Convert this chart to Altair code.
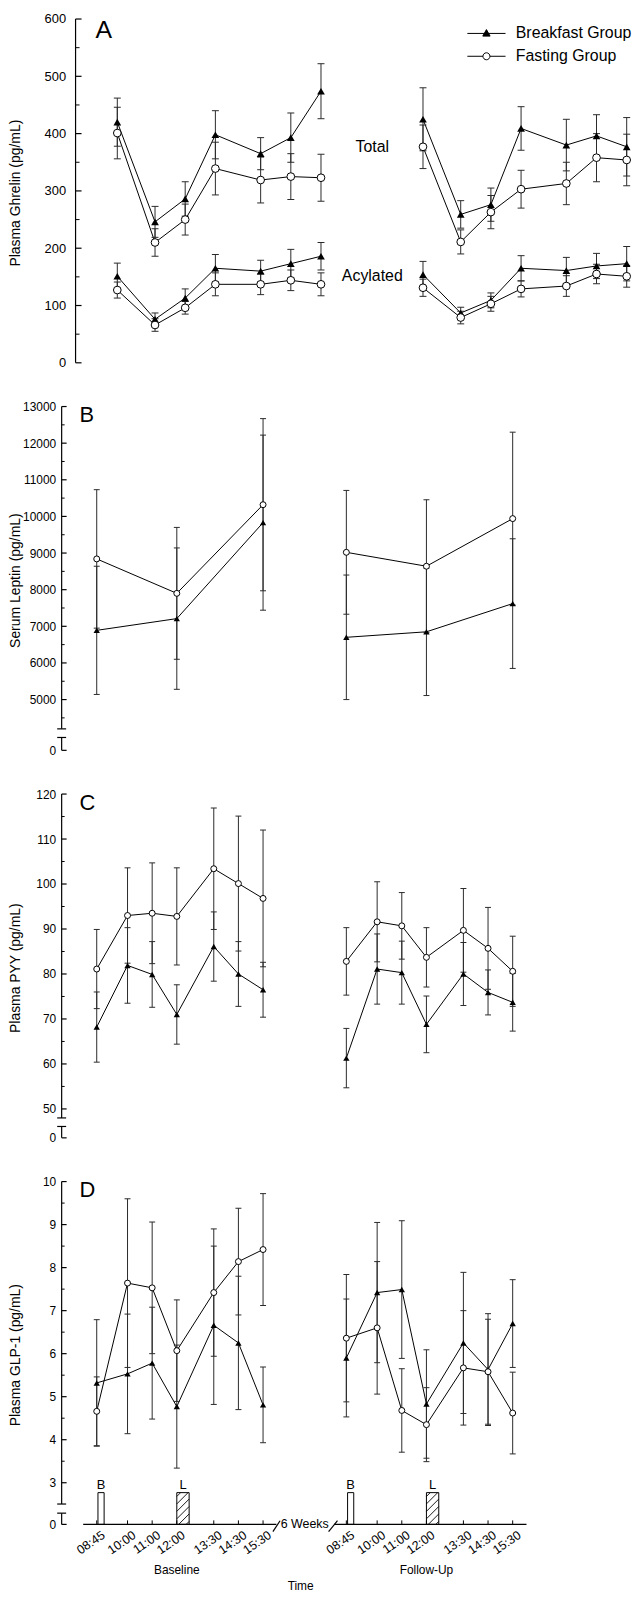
import altair as alt
import pandas as pd

FONT = "Liberation Sans"
INK = "black"
BAR_INK = "#2a2a2a"

# ---------------- time axis ----------------
TIMES = ["08:45", "10:00", "11:00", "12:00", "13:30", "14:30", "15:30"]
HOURS = [8.75, 10.0, 11.0, 12.0, 13.5, 14.5, 15.5]
SESSIONS = ["Baseline", "Follow-Up"]
SESSION_SHIFT = [0.0, 10.13]          # follow-up placed after the "6 Weeks" break
GROUPS = ["Breakfast Group", "Fasting Group"]
LEPTIN_IDX = [0, 3, 6]                 # leptin sampled at 08:45, 12:00, 15:30

# ---------------- Panel A: plasma ghrelin (pg/mL) ----------------
A_TOT_BRK_BL = [420, 246, 286, 398, 365, 393, 474]
A_TOT_BRK_BL_SD = [42, 27, 30, 42, 28, 43, 48]
A_TOT_FST_BL = [401, 210, 250, 339, 319, 325, 323]
A_TOT_FST_BL_SD = [45, 24, 27, 46, 40, 40, 41]
A_ACY_BRK_BL = [151, 76, 113, 165, 160, 173, 186]
A_ACY_BRK_BL_SD = [23, 11, 16, 24, 19, 25, 24]
A_ACY_FST_BL = [127, 66, 96, 137, 137, 144, 137]
A_ACY_FST_BL_SD = [14, 11, 11, 20, 18, 18, 20]
A_TOT_BRK_FU = [425, 259, 276, 409, 380, 396, 377]
A_TOT_BRK_FU_SD = [55, 24, 29, 38, 45, 37, 51]
A_TOT_FST_FU = [377, 211, 263, 303, 313, 358, 354]
A_TOT_FST_FU_SD = [38, 21, 29, 33, 37, 42, 45]
A_ACY_BRK_FU = [154, 87, 109, 165, 161, 169, 173]
A_ACY_BRK_FU_SD = [23, 10, 13, 22, 23, 22, 30]
A_ACY_FST_FU = [131, 79, 103, 129, 134, 155, 151]
A_ACY_FST_FU_SD = [15, 11, 13, 14, 18, 17, 19]
A_SERIES_LABELS = ["Total", "Acylated"]
A_SERIES_LABEL_X = [17.2, 17.2]
A_SERIES_LABEL_Y = [377, 151]

# ---------------- Panel B: serum leptin (pg/mL) ----------------
B_BRK_BL = [6890, 7210, 9830]
B_BRK_BL_SD = [1750, 1930, 2390]
B_FST_BL = [8840, 7900, 10320]
B_FST_BL_SD = [1890, 1800, 2350]
B_BRK_FU = [6700, 6850, 7620]
B_BRK_FU_SD = [1700, 1740, 1770]
B_FST_FU = [9020, 8640, 9940]
B_FST_FU_SD = [1690, 1815, 2360]

# ---------------- Panel C: plasma PYY (pg/mL) ----------------
C_BRK_BL = [68.2, 81.9, 79.9, 71.0, 86.1, 80.0, 76.5]
C_BRK_BL_SD = [7.8, 8.4, 7.3, 6.6, 7.7, 7.2, 6.1]
C_FST_BL = [81.1, 93.0, 93.5, 92.8, 103.4, 100.1, 96.8]
C_FST_BL_SD = [8.8, 10.6, 11.2, 10.8, 13.5, 15.0, 15.2]
C_BRK_FU = [61.3, 81.1, 80.3, 68.8, 80.0, 75.9, 73.7]
C_BRK_FU_SD = [6.6, 7.8, 7.0, 6.3, 7.0, 5.0, 6.4]
C_FST_FU = [82.8, 91.6, 90.7, 83.7, 89.7, 85.7, 80.6]
C_FST_FU_SD = [7.5, 8.9, 7.4, 6.6, 9.3, 9.1, 7.8]

# ---------------- Panel D: plasma GLP-1 (pg/mL) ----------------
D_BRK_BL = [5.32, 5.53, 5.78, 4.77, 6.66, 6.25, 4.81]
D_BRK_BL_SD = [1.47, 1.39, 1.30, 1.43, 1.84, 1.55, 0.88]
D_FST_BL = [4.66, 7.64, 7.53, 6.07, 7.42, 8.14, 8.42]
D_FST_BL_SD = [0.80, 1.96, 1.53, 1.18, 1.48, 1.24, 1.30]
D_BRK_FU = [5.90, 7.42, 7.49, 4.83, 6.25, 5.63, 6.70]
D_BRK_FU_SD = [1.37, 1.63, 1.60, 1.26, 1.64, 1.30, 1.02]
D_FST_FU = [6.36, 6.60, 4.68, 4.35, 5.67, 5.58, 4.62]
D_FST_FU_SD = [1.48, 1.54, 0.97, 0.86, 1.33, 1.22, 0.95]

# meals (B = breakfast, L = lunch), start/end in clock hours
MEAL_LABELS = ["B", "L"]
MEAL_START = [8.8, 12.0]
MEAL_END = [9.05, 12.5]
MEAL_HATCHED = [False, True]

SERIES = [
    ("A", "Total", 0, 0, A_TOT_BRK_BL, A_TOT_BRK_BL_SD, None),
    ("A", "Total", 1, 0, A_TOT_FST_BL, A_TOT_FST_BL_SD, None),
    ("A", "Acylated", 0, 0, A_ACY_BRK_BL, A_ACY_BRK_BL_SD, None),
    ("A", "Acylated", 1, 0, A_ACY_FST_BL, A_ACY_FST_BL_SD, None),
    ("A", "Total", 0, 1, A_TOT_BRK_FU, A_TOT_BRK_FU_SD, None),
    ("A", "Total", 1, 1, A_TOT_FST_FU, A_TOT_FST_FU_SD, None),
    ("A", "Acylated", 0, 1, A_ACY_BRK_FU, A_ACY_BRK_FU_SD, None),
    ("A", "Acylated", 1, 1, A_ACY_FST_FU, A_ACY_FST_FU_SD, None),
    ("B", "Leptin", 0, 0, B_BRK_BL, B_BRK_BL_SD, LEPTIN_IDX),
    ("B", "Leptin", 1, 0, B_FST_BL, B_FST_BL_SD, LEPTIN_IDX),
    ("B", "Leptin", 0, 1, B_BRK_FU, B_BRK_FU_SD, LEPTIN_IDX),
    ("B", "Leptin", 1, 1, B_FST_FU, B_FST_FU_SD, LEPTIN_IDX),
    ("C", "PYY", 0, 0, C_BRK_BL, C_BRK_BL_SD, None),
    ("C", "PYY", 1, 0, C_FST_BL, C_FST_BL_SD, None),
    ("C", "PYY", 0, 1, C_BRK_FU, C_BRK_FU_SD, None),
    ("C", "PYY", 1, 1, C_FST_FU, C_FST_FU_SD, None),
    ("D", "GLP1", 0, 0, D_BRK_BL, D_BRK_BL_SD, None),
    ("D", "GLP1", 1, 0, D_FST_BL, D_FST_BL_SD, None),
    ("D", "GLP1", 0, 1, D_BRK_FU, D_BRK_FU_SD, None),
    ("D", "GLP1", 1, 1, D_FST_FU, D_FST_FU_SD, None),
]

rows = []
for panel, kind, g, s, means, sds, idx in SERIES:
    idx = idx if idx is not None else list(range(len(HOURS)))
    for i, m, e in zip(idx, means, sds):
        rows.append(dict(panel=panel, kind=kind, group=GROUPS[g], session=SESSIONS[s],
                         x=HOURS[i] + SESSION_SHIFT[s], v=m, lo=m - e, hi=m + e,
                         sid=f"{kind}|{g}|{s}"))
DF = pd.DataFrame(rows)

# ---------------- geometry ----------------
W_A = 570
XDOM_A = [6.906, 6.906 + 570 / 30.37]
W = 468
XDOM = [7.327, 26.198]
ALL_X = [h + sh for sh in SESSION_SHIFT for h in HOURS]

PANELS = {
    "A": dict(h=346, ydom=[0.0, 600.0], major=[float(v) for v in range(0, 601, 100)],
              minor=[float(v) for v in range(50, 600, 100)],
              segs=[(0, 600)], caps=[], zero=-1, title="Plasma Ghrelin (pg/mL)", lsize=13, lpad=10,
              ax=14, mlen=6, nlen=4, tri=60, circ=60, letter_dx=34, lsz=25),
    "B": dict(h=346, ydom=[3614.0, 13000.0], major=[3614.0] + [float(v) for v in range(5000, 13001, 1000)],
              minor=[float(v) for v in range(4500, 13000, 1000)], segs=[(4200, 13000), (3614, 3965)],
              caps=[4200, 3965], zero=4000, title="Serum Leptin (pg/mL)", lsize=12, lpad=6,
              ax=0, mlen=5, nlen=3, tri=40, circ=36, letter_dx=18, lsz=22),
    "C": dict(h=346, ydom=[43.57, 120.0], major=[43.57] + [float(v) for v in range(50, 121, 10)],
              minor=[float(v) for v in range(55, 120, 10)], segs=[(48.0, 120), (43.57, 46.1)],
              caps=[48.0, 46.1], zero=45, title="Plasma PYY (pg/mL)", lsize=12, lpad=6,
              ax=0, mlen=5, nlen=3, tri=40, circ=36, letter_dx=18, lsz=22),
    "D": dict(h=345, ydom=[2.032, 10.0], major=[2.032] + [float(v) for v in range(3, 11)],
              minor=[3.5, 4.5, 5.5, 6.5, 7.5, 8.5, 9.5], segs=[(2.505, 10), (2.032, 2.293)],
              caps=[2.505, 2.293], zero=2.5, title="Plasma GLP-1 (pg/mL)", lsize=12, lpad=6,
              ax=0, mlen=5, nlen=3, tri=40, circ=36, letter_dx=18, lsz=22),
}
MEAL_TOP = 2.77

XAXIS_D = alt.Axis(
    values=ALL_X,
    labelExpr="timeFormat(datetime(2000, 0, 1, 0, round((datum.value > 17 ? datum.value - 10.13 : datum.value) * 60)), '%H:%M')",
    labelAngle=325, labelAlign="right", labelBaseline="top", labelFont=FONT, labelFontSize=12.5,
    labelColor=INK, labelPadding=4, labelOffset=3, labelOverlap=False, labelFlush=False,
    domain=False, ticks=False, grid=False,
    title="Time", titleFont=FONT, titleFontSize=12, titleFontWeight="normal", titleColor=INK,
    titleX=240, titleY=62, titleAlign="center", titleBaseline="middle")


def make_yaxis(cfg):
    return alt.Axis(values=cfg["major"],
                    labelExpr=f"datum.value < {cfg['zero']} ? '0' : format(datum.value, 'd')",
                    domain=False, ticks=False, grid=False, labelOverlap=False, labelFlush=False,
                    labelSeparation=0,
                    labelFont=FONT, labelFontSize=cfg["lsize"], labelColor=INK, labelPadding=cfg["lpad"],
                    offset=-cfg["ax"], title=cfg["title"], titleFont=FONT, titleFontSize=14,
                    titleFontWeight="normal", titleColor=INK, titleAngle=270, titleAlign="center",
                    titleBaseline="middle", titleX=-46.5 - cfg["ax"], titleY=cfg["h"] * 0.505)


def build(key, extra=None):
    cfg = PANELS[key]
    d = DF[DF.panel == key]
    width = W_A if key == "A" else W
    xs = alt.Scale(domain=XDOM_A if key == "A" else XDOM, nice=False, zero=False)
    ys = alt.Scale(domain=cfg["ydom"], nice=False, zero=False)
    xaxis = XAXIS_D if key == "D" else None
    yaxis = make_yaxis(cfg)
    X = lambda f: alt.X(f, scale=xs, axis=xaxis)
    Y = lambda f: alt.Y(f, scale=ys, axis=yaxis)
    ax = cfg["ax"]
    cw = 7 if key == "A" else 6

    seg = pd.DataFrame({"y0": [a for a, b in cfg["segs"]], "y1": [b for a, b in cfg["segs"]]})
    layers = [
        alt.Chart(seg).mark_rule(color=INK, strokeWidth=1.2).encode(
            x=alt.value(ax), y=Y("y0:Q"), y2="y1:Q"),
        alt.Chart(pd.DataFrame({"t": cfg["major"]})).mark_rule(color=INK, strokeWidth=1.2).encode(
            x=alt.value(ax), x2=alt.value(ax + cfg["mlen"]), y=Y("t:Q")),
        alt.Chart(pd.DataFrame({"t": cfg["minor"]})).mark_rule(color=INK, strokeWidth=1).encode(
            x=alt.value(ax), x2=alt.value(ax + cfg["nlen"]), y=Y("t:Q")),
    ]
    if cfg["caps"]:
        layers.append(alt.Chart(pd.DataFrame({"t": cfg["caps"]})).mark_rule(color=INK, strokeWidth=1.2).encode(
            x=alt.value(ax - 4.5), x2=alt.value(ax + 4.5), y=Y("t:Q")))
    layers += [
        alt.Chart(d).mark_line(color=INK, strokeWidth=1).encode(x=X("x:Q"), y=Y("v:Q"), detail="sid:N"),
        alt.Chart(d).mark_rule(color=BAR_INK, strokeWidth=1).encode(x=X("x:Q"), y=Y("lo:Q"), y2="hi:Q"),
        alt.Chart(d).mark_tick(color=BAR_INK, orient="horizontal", size=cw, thickness=1, opacity=1).encode(
            x=X("x:Q"), y=Y("lo:Q")),
        alt.Chart(d).mark_tick(color=BAR_INK, orient="horizontal", size=cw, thickness=1, opacity=1).encode(
            x=X("x:Q"), y=Y("hi:Q")),
        alt.Chart(d[d.group == GROUPS[0]]).mark_point(shape="triangle-up", filled=True, color=INK,
                                                      size=cfg["tri"], opacity=1).encode(x=X("x:Q"), y=Y("v:Q")),
        alt.Chart(d[d.group == GROUPS[1]]).mark_point(shape="circle", filled=True, fill="white",
                                                      stroke=INK, strokeWidth=1, size=cfg["circ"],
                                                      opacity=1).encode(x=X("x:Q"), y=Y("v:Q")),
        # panel letter
        alt.Chart(pd.DataFrame({"letter": [key]})).mark_text(
            font=FONT, fontSize=cfg["lsz"], color=INK, align="left", baseline="top").encode(
            x=alt.value(cfg["letter_dx"]), y=alt.value(-1), text="letter:N"),
    ]
    if extra:
        layers += extra(X, Y, cfg)
    return alt.layer(*layers).properties(width=width, height=cfg["h"])


# ---------- panel A extras: series labels + legend ----------
LEG_PATHS = [
    "M-2.4,0H2.4M0,-0.48L0.46,0.34L-0.46,0.34Z",
    "M-2.4,0H-0.44M0.44,0H2.4M-0.44,0A0.44,0.44,0,1,1,0.44,0A0.44,0.44,0,1,1,-0.44,0Z",
]


def extra_a(X, Y, cfg):
    lab = pd.DataFrame({"label": A_SERIES_LABELS, "x": A_SERIES_LABEL_X, "y": A_SERIES_LABEL_Y})
    leg = alt.Legend(title=None, orient="none", legendX=419, legendY=6, symbolSize=256,
                     symbolStrokeColor=INK, symbolStrokeWidth=1, symbolOpacity=1,
                     labelFont=FONT, labelFontSize=16, labelColor=INK, labelOffset=21,
                     rowPadding=6, padding=0)
    return [
        alt.Chart(lab).mark_text(font=FONT, fontSize=16, color=INK, align="center", baseline="middle").encode(
            x=X("x:Q"), y=Y("y:Q"), text="label:N"),
        alt.Chart(pd.DataFrame({"group": GROUPS})).mark_point(size=0, strokeWidth=1, opacity=1).encode(
            x=alt.value(0), y=alt.value(0),
            shape=alt.Shape("group:N", scale=alt.Scale(domain=GROUPS, range=LEG_PATHS), legend=leg),
            fill=alt.Fill("group:N", scale=alt.Scale(domain=GROUPS, range=["black", "white"]), legend=leg),
            stroke=alt.Stroke("group:N", scale=alt.Scale(domain=GROUPS, range=["black", "black"]), legend=leg)),
    ]


# ---------- panel D extras: meals, broken time axis ----------
XLINE_SEGS = [(8.20, 16.04), (18.38, 26.19)]
BREAK_SLASH_X = [(15.90, 16.19), (18.16, 18.52)]
WEEKS_LABEL = "6 Weeks"
WEEKS_X = 17.19


def extra_d(X, Y, cfg):
    z0 = cfg["ydom"][0]
    H = cfg["h"]
    ppx = W / (XDOM[1] - XDOM[0])
    ppy = H / (cfg["ydom"][1] - cfg["ydom"][0])
    meals, hatch = [], []
    for sh in SESSION_SHIFT:
        for lab, s0, e0, hat in zip(MEAL_LABELS, MEAL_START, MEAL_END, MEAL_HATCHED):
            s, e = s0 + sh, e0 + sh
            meals.append(dict(label=lab, x0=s, x1=e, xm=(s + e) / 2, y0=z0, y1=MEAL_TOP))
            if hat:
                w = (e - s) * ppx
                h = (MEAL_TOP - z0) * ppy
                c = -w + 3.0
                while c < h:
                    xa, xb = max(0.0, -c), min(w, h - c)
                    if xb > xa:
                        hatch.append(dict(x0=s + xa / ppx, x1=s + xb / ppx,
                                          y0=z0 + (xa + c) / ppy, y1=z0 + (xb + c) / ppy))
                    c += 7.5
    meals = pd.DataFrame(meals)
    hatch = pd.DataFrame(hatch)
    xl = pd.DataFrame({"x0": [a for a, b in XLINE_SEGS], "x1": [b for a, b in XLINE_SEGS], "y": [z0, z0]})
    sl = pd.DataFrame({"x0": [a for a, b in BREAK_SLASH_X], "x1": [b for a, b in BREAK_SLASH_X],
                       "y0": [z0 - 0.17, z0 - 0.17], "y1": [z0 + 0.085, z0 + 0.085]})
    tk = pd.DataFrame({"x": ALL_X, "y": [z0] * len(ALL_X)})
    sess = pd.DataFrame({"label": SESSIONS, "x": [12.0 + sh for sh in SESSION_SHIFT]})
    wk = pd.DataFrame({"label": [WEEKS_LABEL], "x": [WEEKS_X], "y": [z0]})
    return [
        alt.Chart(meals).mark_rect(fill="white", stroke=INK, strokeWidth=1).encode(
            x=X("x0:Q"), x2="x1:Q", y=Y("y0:Q"), y2="y1:Q"),
        alt.Chart(hatch).mark_rule(color=INK, strokeWidth=0.9).encode(
            x=X("x0:Q"), x2="x1:Q", y=Y("y0:Q"), y2="y1:Q"),
        alt.Chart(meals).mark_text(font=FONT, fontSize=13, color=INK, baseline="bottom", dy=-1).encode(
            x=X("xm:Q"), y=Y("y1:Q"), text="label:N"),
        alt.Chart(xl).mark_rule(color=INK, strokeWidth=1.2).encode(x=X("x0:Q"), x2="x1:Q", y=Y("y:Q")),
        alt.Chart(sl).mark_rule(color=INK, strokeWidth=1.2).encode(
            x=X("x0:Q"), x2="x1:Q", y=Y("y0:Q"), y2="y1:Q"),
        alt.Chart(tk).mark_rule(color=INK, strokeWidth=1).encode(
            x=X("x:Q"), y=Y("y:Q"), y2=alt.value(H - 4)),
        alt.Chart(wk).mark_text(font=FONT, fontSize=12.5, color=INK, baseline="middle", align="center").encode(
            x=X("x:Q"), y=Y("y:Q"), text="label:N"),
        alt.Chart(sess).mark_text(font=FONT, fontSize=12, color=INK, baseline="middle", align="center").encode(
            x=X("x:Q"), y=alt.value(H + 46), text="label:N"),
    ]


chart = alt.vconcat(
    build("A", extra=extra_a),
    build("B"),
    build("C"),
    build("D", extra=extra_d),
    spacing=44, bounds="flush",
).properties(
    padding={"left": 0, "top": 0, "right": 0, "bottom": 0}
).configure(
    font=FONT, view=alt.ViewConfig(stroke=None),
    axis=alt.AxisConfig(labelOverlap=False, labelFlush=False),
)

chart.save("out.html", embed_options={"renderer": "svg", "actions": False})
